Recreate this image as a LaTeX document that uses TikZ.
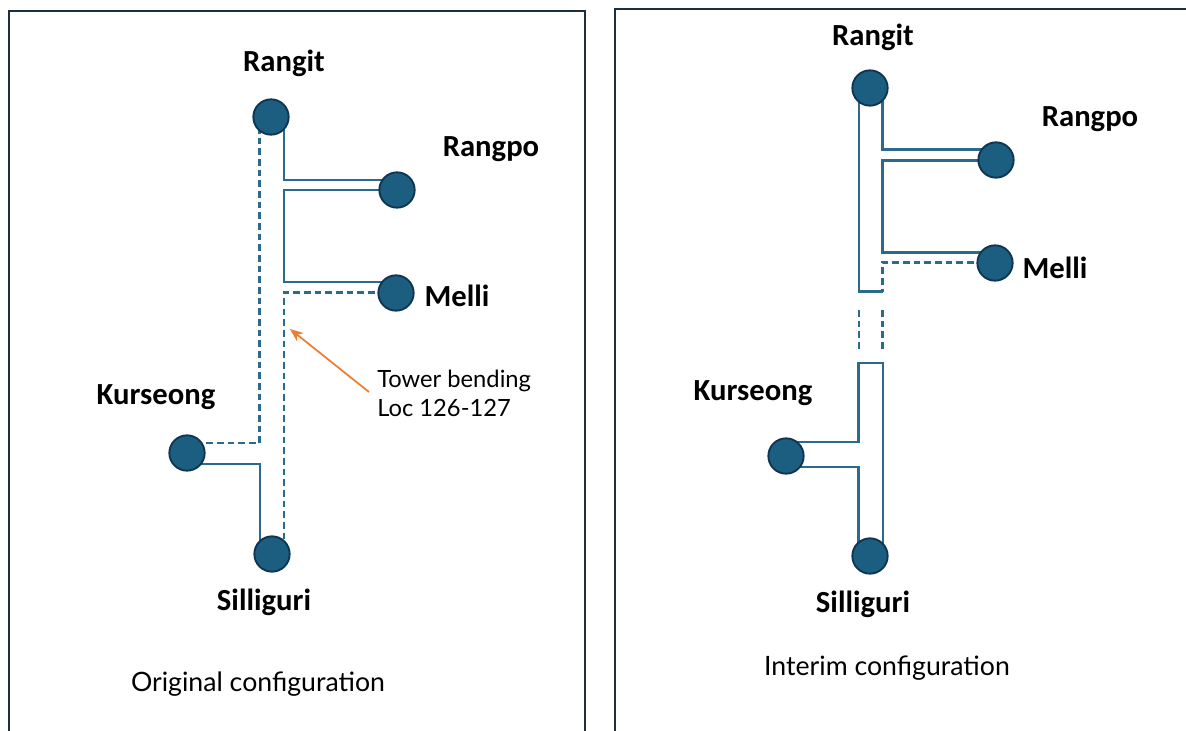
\documentclass[tikz,border=0pt]{standalone}
\usepackage{fontspec}
\setmainfont{Lato}
\newfontfamily\labfont{Carlito}
\usetikzlibrary{calc,arrows.meta}
\definecolor{boxc}{HTML}{1C2F3F}
\definecolor{wirec}{HTML}{2A6A8C}
\definecolor{dotc}{HTML}{1B5E80}
\definecolor{dotline}{HTML}{0F3550}
\definecolor{orangec}{HTML}{ED7D31}
\tikzset{
  frame/.style={draw=boxc,line width=1.6pt},
  wire/.style={draw=wirec,line width=1.6pt},
  dwire/.style={draw=wirec,line width=1.6pt,dash pattern=on 5pt off 3pt},
  station/.style={circle,fill=dotc,draw=dotline,line width=1.4pt,minimum size=26.5pt,inner sep=0pt},
  lab/.style={font=\labfont\bfseries\fontsize{23}{26}\selectfont,anchor=base,inner sep=0pt},
  captext/.style={font=\fontsize{20}{24}\selectfont,anchor=base,inner sep=0pt},
  note/.style={font=\fontsize{17.8}{22}\selectfont,anchor=base west,inner sep=0pt}
}
\begin{document}
\begin{tikzpicture}[x=0.75pt,y=-0.75pt]
\useasboundingbox (0,0) rectangle (1186,731);
% frames
\draw[frame] (9,740) -- (9,11) -- (585,11) -- (585,740);
\draw[frame] (615,740) -- (615,9) -- (1195,9);

% ---------- left: original configuration ----------
\coordinate (rL) at (271,117);
\coordinate (rpL) at (397,190);
\coordinate (mL) at (396,293);
\coordinate (kL) at (187,453);
\coordinate (sL) at (272,554);

\draw[wire] ($(rL)+(13,0)$) -- ($(rL)+(13,63)$) -- ($(rpL)+(0,-10)$);
\draw[wire] (rpL) -- ($(rL)+(13,73)$) -- ($(rL)+(13,165)$) -- ($(mL)+(0,-11)$);
\draw[dwire] ($(mL)+(0,-0.5)$) -- ($(rL)+(13,175.5)$) -- ($(sL)+(12,-12)$);
\draw[dwire] ($(rL)+(-11.5,10)$) -- ($(rL)+(-11.5,326)$) -- ($(kL)+(10,-10)$);
\draw[wire] ($(kL)+(0,11)$) -- ($(sL)+(-12,-90)$) -- ($(sL)+(-12,-10)$);

\node[station] (nrL) at (rL) {};
\node[station] (nrpL) at (rpL) {};
\node[station] (nmL) at (mL) {};
\node[station] (nkL) at (kL) {};
\node[station] (nsL) at (sL) {};

\node[lab] (tRangitL) at (284,72) {Rangit};
\node[lab] (tRangpoL) at (491,157) {Rangpo};
\node[lab] (tMelliL) at (457,306) {Melli};
\node[lab] (tKurseongL) at (156,404) {Kurseong};
\node[lab] (tSilliguriL) at (264,610) {Silliguri};

\node[note] (t1) at (377,387) {Tower bending};
\node[note] (t2) at (377,416) {Loc 126-127};
\coordinate (tip) at (290,329);
\draw[orangec,line width=1.3pt,-{Stealth[length=10pt,width=8pt]}] (369,392) -- (tip);

\node[captext] (capL) at (258,691) {Original configuration};

% ---------- right: interim configuration ----------
\coordinate (rR) at (870,88);
\coordinate (rpR) at (996,160);
\coordinate (mR) at (995,263);
\coordinate (kR) at (786,456);
\coordinate (sR) at (870,556);

\draw[wire] ($(rR)+(12.5,0)$) -- ($(rR)+(12.5,61.5)$) -- ($(rpR)+(0,-10.5)$);
\draw[wire] ($(rpR)+(0,0.5)$) -- ($(rR)+(12.5,72.5)$) -- ($(rR)+(12.5,164.5)$) -- ($(mR)+(0,-10.5)$);
\draw[dwire] ($(mR)+(0,-0.5)$) -- ($(rR)+(12.5,174.5)$) -- ($(rR)+(12.5,203.5)$);
\draw[wire] ($(rR)+(-11,0)$) -- ($(rR)+(-11,203.5)$) -- ($(rR)+(13,203.5)$);
\draw[dwire] ($(rR)+(-11,222)$) -- ($(rR)+(-11,261)$);
\draw[dwire] ($(rR)+(12.5,222)$) -- ($(rR)+(12.5,261)$);
\draw[wire] ($(kR)+(0,-14)$) -- ($(sR)+(-11.5,-114)$) -- ($(sR)+(-11.5,-193)$) -- ($(sR)+(13,-193)$) -- ($(sR)+(13,0)$);
\draw[wire] ($(kR)+(0,11)$) -- ($(sR)+(-11.5,-89)$) -- ($(sR)+(-11.5,0)$);

\node[station] (nrR) at (rR) {};
\node[station] (nrpR) at (rpR) {};
\node[station] (nmR) at (mR) {};
\node[station] (nkR) at (kR) {};
\node[station] (nsR) at (sR) {};

\node[lab] (tRangitR) at (873,46) {Rangit};
\node[lab] (tRangpoR) at (1090,127) {Rangpo};
\node[lab] (tMelliR) at (1055,278) {Melli};
\node[lab] (tKurseongR) at (753,400) {Kurseong};
\node[lab] (tSilliguriR) at (863,612) {Silliguri};

\node[captext] (capR) at (887,675) {Interim configuration};
\end{tikzpicture}
\end{document}
